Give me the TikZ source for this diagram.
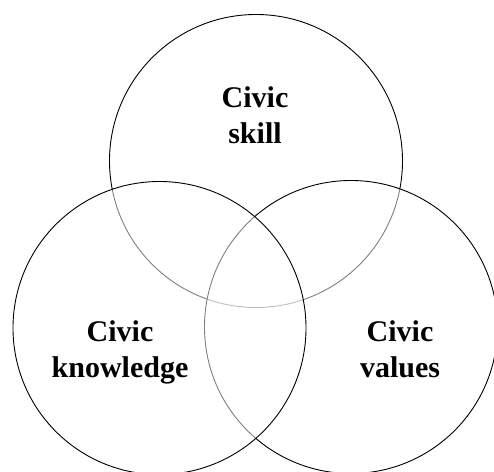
\documentclass[tikz,border=0pt]{standalone}
\usepackage{fontspec}
\setmainfont{Liberation Serif}
\begin{document}
\begin{tikzpicture}[x=1pt,y=1pt,
  ring/.style={circle, draw=black, line width=0.9pt, fill=white, fill opacity=0.5, draw opacity=1, minimum size=293pt, inner sep=0pt},
  lbl/.style={align=center, font=\fontsize{30}{36}\selectfont\bfseries, inner sep=0pt}]
\useasboundingbox (0,0) rectangle (494,471);
\node[ring] (skillc) at (256,310) {};
\node[ring] (valuesc) at (351,144) {};
\node[ring] (knowc) at (159.5,143) {};
\node[lbl] (skill) at (255,356) {Civic\\skill};
\node[lbl] (know) at (120,118.5) {Civic\\knowledge};
\node[lbl] (values) at (400,121.8) {Civic\\values};
\end{tikzpicture}
\end{document}
